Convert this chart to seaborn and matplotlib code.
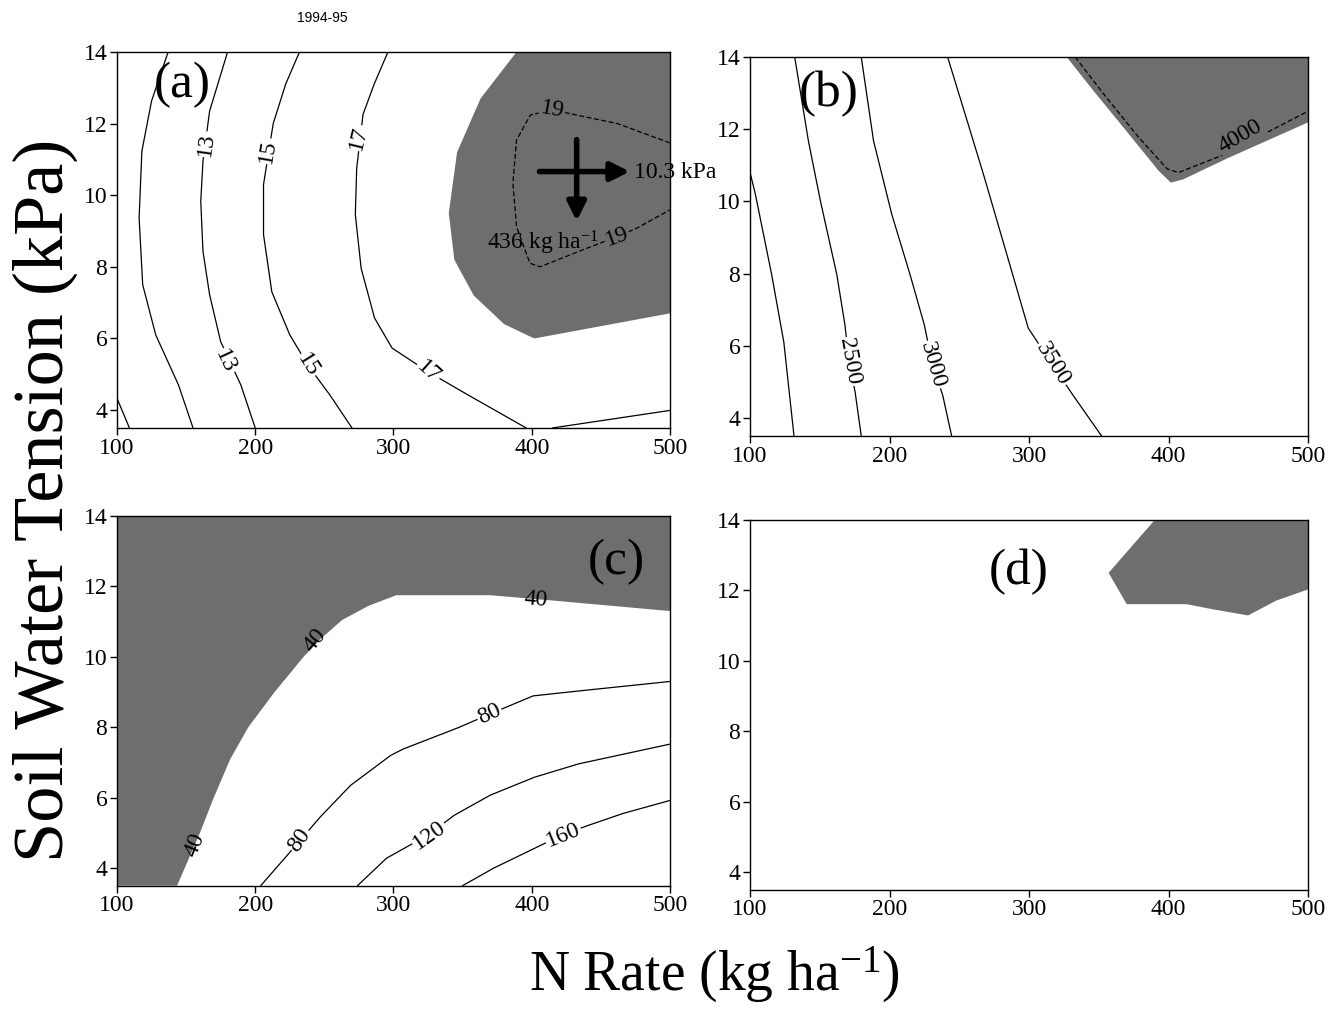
import matplotlib
matplotlib.use("Agg")
import matplotlib.pyplot as plt
import seaborn as sns

sns.set_style("ticks")
plt.rcParams["font.family"] = ["Liberation Serif", "DejaVu Serif"]
plt.rcParams["mathtext.fontset"] = "custom"
plt.rcParams["mathtext.rm"] = "Liberation Serif"
plt.rcParams["mathtext.it"] = "Liberation Serif:italic"
for k in ["text.color", "axes.labelcolor", "xtick.color", "ytick.color", "axes.edgecolor"]:
    plt.rcParams[k] = "black"

GRAY = "#6e6e6e"

# eixos comuns
x_ticks = [100, 200, 300, 400, 500]
y_ticks = [4, 6, 8, 10, 12, 14]

# ---------------- painel (a) ----------------
a_c9_x = [100, 109]
a_c9_y = [4.33, 3.5]
a_c11_x = [137, 125, 118, 116, 118.6, 128, 144.5, 155]
a_c11_y = [14, 12.63, 11.23, 9.36, 7.5, 6.1, 4.7, 3.5]
a_c13_x = [180, 167, 162.2, 160.6, 162.2, 167, 175, 189.6, 200]
a_c13_y = [14, 12.35, 10.95, 9.83, 8.43, 7.22, 5.91, 4.7, 3.5]
a_c15_x = [232, 222, 213, 206, 206, 212, 225, 238, 254, 270]
a_c15_y = [14, 13.1, 12.0, 10.3, 8.9, 7.3, 6.1, 5.26, 4.42, 3.5]
a_c17_x = [296, 286, 278, 273.4, 272.4, 276.6, 286.3, 299, 325, 354, 396]
a_c17_y = [14, 13.1, 12.26, 10.76, 9.46, 7.96, 6.57, 5.73, 5.07, 4.42, 3.5]
a_c17b_x = [415, 500]
a_c17b_y = [3.5, 3.99]
a_c19_x = [500, 462, 415, 399, 389, 386.4, 389, 398.7, 406, 440, 461.5, 476, 500]
a_c19_y = [11.46, 12.0, 12.38, 12.24, 11.54, 10.34, 9.12, 8.1, 8.0, 8.52, 8.84, 9.08, 9.59]
a_gray_x = [389, 363, 346, 340, 344, 358, 380, 399, 402, 500, 500]
a_gray_y = [14, 12.7, 11.2, 9.5, 8.2, 7.2, 6.4, 6.05, 6.0, 6.7, 14]
a_labels = ["13", "13", "15", "15", "17", "17"]
a_lab_x = [164.5, 178.3, 208.9, 238, 275, 325]
a_lab_y = [11.42, 5.35, 11.23, 5.26, 11.6, 5.07]
a_lab_rot = [82, -65, 80, -58, 76, -42]
a_opt_n = 436
a_opt_swt = 10.3

# ---------------- painel (b) ----------------
b_c2000_x = [100, 103.8, 115.5, 124.2, 131.5]
b_c2000_y = [10.8, 10.2, 7.97, 6.1, 3.5]
b_c2500_x = [132, 141.8, 150.5, 162.2, 168, 171, 175.3, 179.7]
b_c2500_y = [14, 11.68, 10.0, 7.97, 6.58, 5.56, 4.72, 3.5]
b_c3000_x = [179.7, 188.5, 201.6, 214.7, 224.9, 230.8, 238.1, 244.5]
b_c3000_y = [14, 11.68, 9.64, 7.97, 6.58, 5.47, 4.63, 3.5]
b_c3500_x = [241.6, 252.7, 267.3, 284.8, 299.4, 316.9, 331.5, 352]
b_c3500_y = [14, 12.6, 10.75, 8.43, 6.49, 5.47, 4.63, 3.5]
b_c4000_x = [333, 355, 378, 399, 407, 440, 500]
b_c4000_y = [14, 12.9, 11.8, 10.9, 10.8, 11.3, 12.5]
b_gray_x = [327, 346, 369.5, 392.8, 401.6, 410.4, 442.5, 500, 500]
b_gray_y = [14, 13.07, 11.96, 10.85, 10.52, 10.61, 11.2, 12.19, 14]
b_labels = ["2500", "3000", "3500"]
b_lab_x = [171, 230.8, 317]
b_lab_y = [5.56, 5.47, 5.5]
b_lab_rot = [-80, -74, -58]

# ---------------- painel (c) ----------------
c_c40_x = [143.5, 160, 170, 182, 195, 214, 235, 247, 263, 282, 302, 370, 415, 466, 500]
c_c40_y = [3.5, 5.0, 6.0, 7.1, 8.0, 9.0, 10.0, 10.5, 11.05, 11.45, 11.75, 11.75, 11.6, 11.42, 11.3]
c_c80_x = [204, 224, 247, 269, 298, 307, 347, 370, 401, 434, 500]
c_c80_y = [3.5, 4.4, 5.45, 6.35, 7.2, 7.38, 7.99, 8.38, 8.89, 9.03, 9.3]
c_c120_x = [274, 295, 325, 344, 370, 402, 434, 500]
c_c120_y = [3.5, 4.28, 4.94, 5.5, 6.07, 6.58, 6.96, 7.52]
c_c160_x = [350, 372.6, 422, 440, 466, 500]
c_c160_y = [3.5, 4.0, 4.94, 5.2, 5.55, 5.92]
c_labels = ["40", "40", "40", "80", "80", "120", "160"]
c_lab_x = [403, 243.5, 156.5, 232, 369.4, 325.8, 422.6]
c_lab_y = [11.62, 10.48, 4.66, 4.8, 8.37, 4.94, 4.94]
c_lab_rot = [-5, 50, 68, 55, 25, 35, 22]

# ---------------- painel (d) ----------------
d_gray_x = [390, 357, 370, 413, 431, 457, 477, 500, 500]
d_gray_y = [14, 12.5, 11.61, 11.61, 11.47, 11.29, 11.71, 12.03, 14]

panel_names = ["(a)", "(b)", "(c)", "(d)"]
panel_x = [147.4, 156.4, 461, 292.7]
panel_y = [13.08, 12.98, 12.69, 12.54]


def linha(ax, xs, ys, tracejada=False):
    sns.lineplot(x=xs, y=ys, sort=False, estimator=None, color="black",
                 lw=0.9, linestyle=(0, (4, 2)) if tracejada else "-", ax=ax)


def rotulos(ax, textos, xs, ys, rots, fundo="white", tam=17):
    for t, x, y, r in zip(textos, xs, ys, rots):
        kw = {}
        if fundo is not None:
            kw["bbox"] = dict(boxstyle="square,pad=0.05", fc=fundo, ec="none")
        ax.text(x, y, t, rotation=r, ha="center", va="center", fontsize=tam,
                rotation_mode="anchor", **kw)


fig = plt.figure(figsize=(13.37, 10.11), dpi=100)
axa = fig.add_axes([0.0875, 0.5767, 0.4136, 0.3719])
axb = fig.add_axes([0.561, 0.5687, 0.4174, 0.3749])
axc = fig.add_axes([0.0875, 0.124, 0.4136, 0.3656])
axd = fig.add_axes([0.561, 0.120, 0.4174, 0.3656])
eixos = [axa, axb, axc, axd]

# (a)
axa.fill(a_gray_x, a_gray_y, color=GRAY, lw=0)
for xs, ys in [(a_c9_x, a_c9_y), (a_c11_x, a_c11_y), (a_c13_x, a_c13_y),
               (a_c15_x, a_c15_y), (a_c17_x, a_c17_y), (a_c17b_x, a_c17b_y)]:
    linha(axa, xs, ys)
linha(axa, a_c19_x, a_c19_y, tracejada=True)
rotulos(axa, a_labels, a_lab_x, a_lab_y, a_lab_rot)
rotulos(axa, ["19", "19"], [415, 461.5], [12.38, 8.84], [-10, 20], fundo=GRAY)
axa.annotate("", xy=(473, a_opt_swt + 0.36), xytext=(403.6, a_opt_swt + 0.36),
             arrowprops=dict(arrowstyle="-|>", lw=4, color="black", mutation_scale=28))
axa.annotate("", xy=(432.5, 9.2), xytext=(432.5, 11.63),
             arrowprops=dict(arrowstyle="-|>", lw=4, color="black", mutation_scale=28))
axa.text(474, a_opt_swt + 0.33, f"{a_opt_swt} kPa", fontsize=17, ha="left", va="center")
axa.text(408, 8.66, f"{a_opt_n} kg ha$^{{\\mathregular{{-1}}}}$", fontsize=17,
         ha="center", va="center")

# (b)
axb.fill(b_gray_x, b_gray_y, color=GRAY, lw=0)
for xs, ys in [(b_c2000_x, b_c2000_y), (b_c2500_x, b_c2500_y),
               (b_c3000_x, b_c3000_y), (b_c3500_x, b_c3500_y)]:
    linha(axb, xs, ys)
linha(axb, b_c4000_x, b_c4000_y, tracejada=True)
rotulos(axb, b_labels, b_lab_x, b_lab_y, b_lab_rot)
rotulos(axb, ["4000"], [451], [11.8], [30], fundo=GRAY)

# (c)
axc.fill([100] + c_c40_x + [500, 100], [3.5] + c_c40_y + [14, 14], color=GRAY, lw=0)
for xs, ys in [(c_c80_x, c_c80_y), (c_c120_x, c_c120_y), (c_c160_x, c_c160_y)]:
    linha(axc, xs, ys)
rotulos(axc, c_labels[:3], c_lab_x[:3], c_lab_y[:3], c_lab_rot[:3], fundo=None)
rotulos(axc, c_labels[3:], c_lab_x[3:], c_lab_y[3:], c_lab_rot[3:])

# (d)
axd.fill(d_gray_x, d_gray_y, color=GRAY, lw=0)

for ax, nome, px, py in zip(eixos, panel_names, panel_x, panel_y):
    ax.set_xlim(100, 500)
    ax.set_ylim(3.5, 14)
    ax.set_xticks(x_ticks)
    ax.set_yticks(y_ticks)
    ax.set_xlabel("")
    ax.set_ylabel("")
    ax.tick_params(direction="out", length=5, width=1, labelsize=17, pad=2)
    for s in ax.spines.values():
        s.set_linewidth(1.0)
    ax.text(px, py, nome, fontsize=37, ha="center", va="center")

fig.text(0.2408, 0.982, "1994-95", fontsize=10, family="Liberation Sans",
         ha="center", va="center")
fig.text(0.034, 0.505, "Soil Water Tension (kPa)", fontsize=52, rotation=90,
         ha="center", va="center")
fig.text(0.534, 0.036, "N Rate (kg ha$^{\\mathregular{-1}}$)", fontsize=40,
         ha="center", va="center")

fig.savefig("out.png", dpi=100)
